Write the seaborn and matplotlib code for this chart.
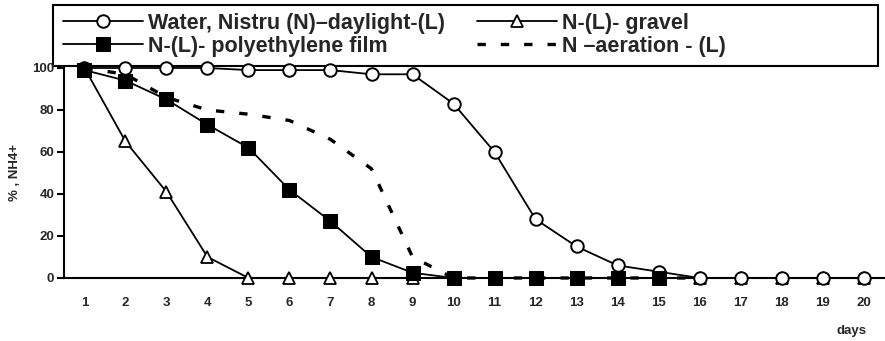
import matplotlib
matplotlib.use("Agg")
import matplotlib.pyplot as plt
from matplotlib.patches import Rectangle
import numpy as np
import pandas as pd
import seaborn as sns

sns.set_theme(style="white")
plt.rcParams["font.family"] = ["Liberation Sans", "DejaVu Sans"]
plt.rcParams["font.weight"] = "bold"

days = list(range(1, 21))
water = [100, 100, 100, 100, 99, 99, 99, 97, 97, 83, 60, 28, 15, 6, 3, 0, 0, 0, 0, 0]
gravel = [100, 65, 41, 10, 0, 0, 0, 0, 0, 0, 0, 0, 0, 0, 0, 0, 0, 0, 0, 0]
polyethylene = [99, 94, 85, 73, 62, 42, 27, 10, 2.5, 0, 0, 0, 0, 0, 0]
aeration = [100, 97, 86, 80, 78, 75, 66, 52, 10, 0, 0, 0, 0, 0, 0, 0]

labels = ["Water, Nistru (N)\u2013daylight-(L)", "N-(L)- gravel",
          "N-(L)- polyethylene film", "N \u2013aeration - (L)"]

fig = plt.figure(figsize=(8.85, 3.41), dpi=100)
ax = fig.add_axes([0.0723, 0.1848, 0.9266, 0.6158])
ax.patch.set_alpha(0)

common = dict(color="black", clip_on=False, ax=ax, legend=False)
sns.lineplot(x=days, y=water, marker="o", markersize=9, markerfacecolor="white",
             markeredgecolor="black", markeredgewidth=1.4, linewidth=1.3, zorder=4, **common)
sns.lineplot(x=days, y=gravel, marker="^", markersize=9, markerfacecolor="white",
             markeredgecolor="black", markeredgewidth=1.3, linewidth=1.3, zorder=3, **common)
sns.lineplot(x=days[:len(polyethylene)], y=polyethylene, marker="s", markersize=9.5,
             markerfacecolor="black", markeredgecolor="black", linewidth=1.3, zorder=5, **common)
sns.lineplot(x=days[:len(aeration)], y=aeration, linewidth=2.4, linestyle=(0, (2.5, 4.5)),
             zorder=2, **common)

ax.set_xlim(0.5, 20.5)
ax.set_ylim(0, 100)
ax.set_xticks(days)
ax.set_xticklabels([str(d) for d in days], fontsize=9.5, fontweight="bold")
ax.set_xticks(np.arange(0.5, 21, 1), minor=True)
ax.tick_params(axis="x", which="major", length=0, pad=14)
ax.tick_params(axis="x", which="minor", length=5, width=1.5, direction="out", color="black")
ax.set_yticks([0, 20, 40, 60, 80, 100])
ax.set_yticklabels(["0", "20", "40", "60", "80", "100"], fontsize=9.5, fontweight="bold")
ax.tick_params(axis="y", length=5, width=1.5, direction="out", color="black", pad=2, left=True)
for s in ["top", "right"]:
    ax.spines[s].set_visible(False)
for s in ["left", "bottom"]:
    ax.spines[s].set_color("black")
    ax.spines[s].set_linewidth(1.5)

ax.set_ylabel("% , NH4+", fontsize=9.5, fontweight="bold", labelpad=8)
fig.text(0.962, 0.03, "days", fontsize=9.5, fontweight="bold", ha="center", va="center")

# legend box spanning the top of the figure, drawn beneath the plot
fig.add_artist(Rectangle((53 / 885, 1 - 66 / 341), 825 / 885, 61 / 341,
                         transform=fig.transFigure, fill=False,
                         edgecolor="black", linewidth=1.5, zorder=-1))

lines = ax.get_lines()
handles = [lines[0], lines[2], lines[1], lines[3]]
leg = fig.legend(handles, [labels[0], labels[2], labels[1], labels[3]], ncol=2,
                 loc="upper left", bbox_to_anchor=(63 / 885, 1 - 13 / 341),
                 handlelength=3.7, handletextpad=0.23,
                 columnspacing=1.5, labelspacing=0.08, borderaxespad=0.0,
                 frameon=False, borderpad=0.0,
                 prop={"weight": "bold", "size": 15.5})
leg.set_zorder(2)

fig.savefig("out.png", dpi=100, facecolor="white")
